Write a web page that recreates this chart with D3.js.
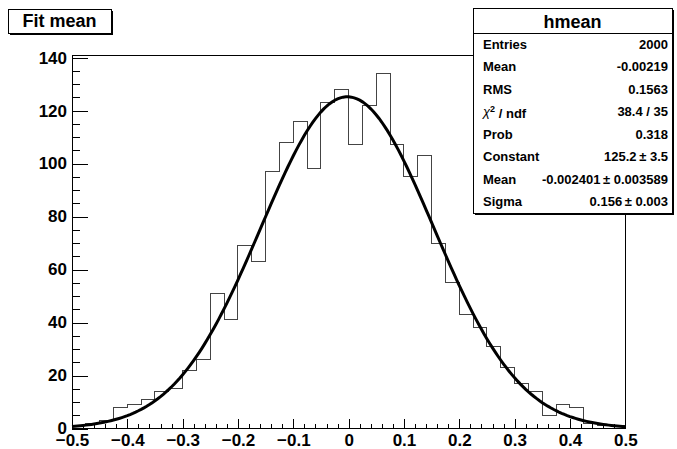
<!DOCTYPE html>
<meta charset="utf-8">
<style>
    body { margin: 0; background: #fff; }
    text { font-family: "Liberation Sans", Arial, Helvetica, sans-serif; font-weight: bold; fill: #000; }
    .axis path { display: none; }
    .axis line { stroke: #000; shape-rendering: crispEdges; }
    .axis text { font-size: 17px; }
    path.hist { fill: none; stroke: #444; stroke-width: 1; shape-rendering: crispEdges; }
    path.fit { fill: none; stroke: #000; stroke-width: 3; }
</style>
<body>
<script src="https://cdn.jsdelivr.net/npm/d3@7"></script>
<script>

    // histogram hmean: 40 bins from -0.5 to 0.5
    var binLow = -0.5, binWidth = 0.025;
    var counts = [1, 2, 3, 8, 9, 11, 14, 15, 22, 26,
                  51, 41, 69, 63, 97, 108, 116, 98, 123, 128,
                  107, 122, 134, 107, 95, 103, 70, 55, 43, 38,
                  31, 23, 17, 14, 5, 9, 8, 2, 1, 1];

    // gaus fit parameters (from the stats box)
    var fitConstant = 125.2, fitMean = -0.002401, fitSigma = 0.156;

    var xTicks = [-0.5, -0.4, -0.3, -0.2, -0.1, 0, 0.1, 0.2, 0.3, 0.4, 0.5];
    var yTicks = [0, 20, 40, 60, 80, 100, 120, 140];

    var statsLabels = ["Entries", "Mean", "RMS", "chi2", "Prob", "Constant", "Mean", "Sigma"];
    var statsValues = ["2000", "-0.00219", "0.1563", "38.4 / 35", "0.318",
                       "125.2\u2009\u00b1 3.5", "-0.002401\u2009\u00b1 0.003589", "0.156\u2009\u00b1 0.003"];

    var width = 677, height = 449;
    var frame = {left: 72, right: 625.3, top: 55.7, bottom: 428.5};

    var x = d3.scaleLinear().domain([-0.5, 0.5]).range([frame.left, frame.right]);
    var y = d3.scaleLinear().domain([0, 140.7]).range([frame.bottom, frame.top]);

    var svg = d3.select("body").append("svg")
            .attr("width", width)
            .attr("height", height);

    // histogram as a step line
    var pts = [[binLow, 0]];
    counts.forEach(function(c, i) {
        var lo = binLow + i * binWidth;
        pts.push([lo, c], [lo + binWidth, c]);
    });
    pts.push([binLow + counts.length * binWidth, 0]);

    svg.append("path")
        .attr("class", "hist")
        .attr("d", d3.line().x(function(d) { return x(d[0]); }).y(function(d) { return y(d[1]); })(pts));

    // fit curve
    var fitX = d3.range(0, 201).map(function(i) { return -0.5 + i * 0.005; });
    svg.append("path")
        .attr("class", "fit")
        .attr("d", d3.line()
            .x(function(d) { return x(d); })
            .y(function(d) { var z = (d - fitMean) / fitSigma; return y(fitConstant * Math.exp(-0.5 * z * z)); })
            (fitX));

    // frame
    svg.append("rect")
        .attr("x", frame.left).attr("y", frame.top)
        .attr("width", frame.right - frame.left).attr("height", frame.bottom - frame.top)
        .attr("fill", "none").attr("stroke", "#000").attr("shape-rendering", "crispEdges");

    // x axis
    svg.append("g").attr("class", "axis")
        .attr("transform", "translate(0," + frame.bottom + ")")
        .call(d3.axisBottom(x).tickValues(d3.range(-0.48, 0.5, 0.02)).tickSize(-5).tickFormat(""));
    svg.append("g").attr("class", "axis")
        .attr("transform", "translate(0," + frame.bottom + ")")
        .call(d3.axisBottom(x).tickValues(xTicks).tickSize(-10).tickPadding(5)
            .tickFormat(function(d) { return d === 0 ? "0" : d3.format(".1f")(d); }));

    // y axis
    svg.append("g").attr("class", "axis")
        .attr("transform", "translate(" + frame.left + ",0)")
        .call(d3.axisLeft(y).tickValues(d3.range(5, 141, 5)).tickSize(-8).tickFormat(""));
    svg.append("g").attr("class", "axis")
        .attr("transform", "translate(" + frame.left + ",0)")
        .call(d3.axisLeft(y).tickValues(yTicks).tickSize(-16).tickPadding(5));

    // title box
    var tb = {x: 8, y: 9, w: 103, h: 24};
    svg.append("rect").attr("x", tb.x + 2).attr("y", tb.y + 2).attr("width", tb.w).attr("height", tb.h).attr("fill", "#000");
    svg.append("rect").attr("x", tb.x).attr("y", tb.y).attr("width", tb.w).attr("height", tb.h)
        .attr("fill", "#fff").attr("stroke", "#000").attr("shape-rendering", "crispEdges");
    svg.append("text").attr("x", tb.x + tb.w / 2).attr("y", tb.y + tb.h / 2).attr("dy", "0.36em")
        .attr("text-anchor", "middle").style("font-size", "18px").text("Fit mean");

    // stats box
    var sb = {x: 473, y: 8, w: 199, h: 205, head: 25};
    svg.append("rect").attr("x", sb.x + 2).attr("y", sb.y + 2).attr("width", sb.w).attr("height", sb.h).attr("fill", "#000");
    svg.append("rect").attr("x", sb.x).attr("y", sb.y).attr("width", sb.w).attr("height", sb.h)
        .attr("fill", "#fff").attr("stroke", "#000").attr("shape-rendering", "crispEdges");
    svg.append("line").attr("x1", sb.x).attr("x2", sb.x + sb.w)
        .attr("y1", sb.y + sb.head).attr("y2", sb.y + sb.head)
        .attr("stroke", "#000").attr("shape-rendering", "crispEdges");
    svg.append("text").attr("x", sb.x + sb.w / 2).attr("y", sb.y + sb.head / 2 + 1).attr("dy", "0.36em")
        .attr("text-anchor", "middle").style("font-size", "18px").text("hmean");

    var rowH = (sb.h - sb.head) / statsLabels.length;
    statsLabels.forEach(function(lab, i) {
        var cy = sb.y + sb.head + rowH * (i + 0.5);
        var t = svg.append("text").attr("x", sb.x + 10).attr("y", cy).attr("dy", "0.36em")
            .style("font-size", "13px");
        if (lab === "chi2") {
            t.append("tspan").style("font-weight", "normal").style("font-style", "italic").text("\u03c7");
            t.append("tspan").attr("dy", "-0.45em").style("font-size", "9px").text("2");
            t.append("tspan").attr("dy", "0.45em").text(" / ndf");
        } else {
            t.text(lab);
        }
        svg.append("text").attr("x", sb.x + sb.w - 4).attr("y", cy).attr("dy", "0.36em")
            .attr("text-anchor", "end").style("font-size", "13px").text(statsValues[i]);
    });

</script>
